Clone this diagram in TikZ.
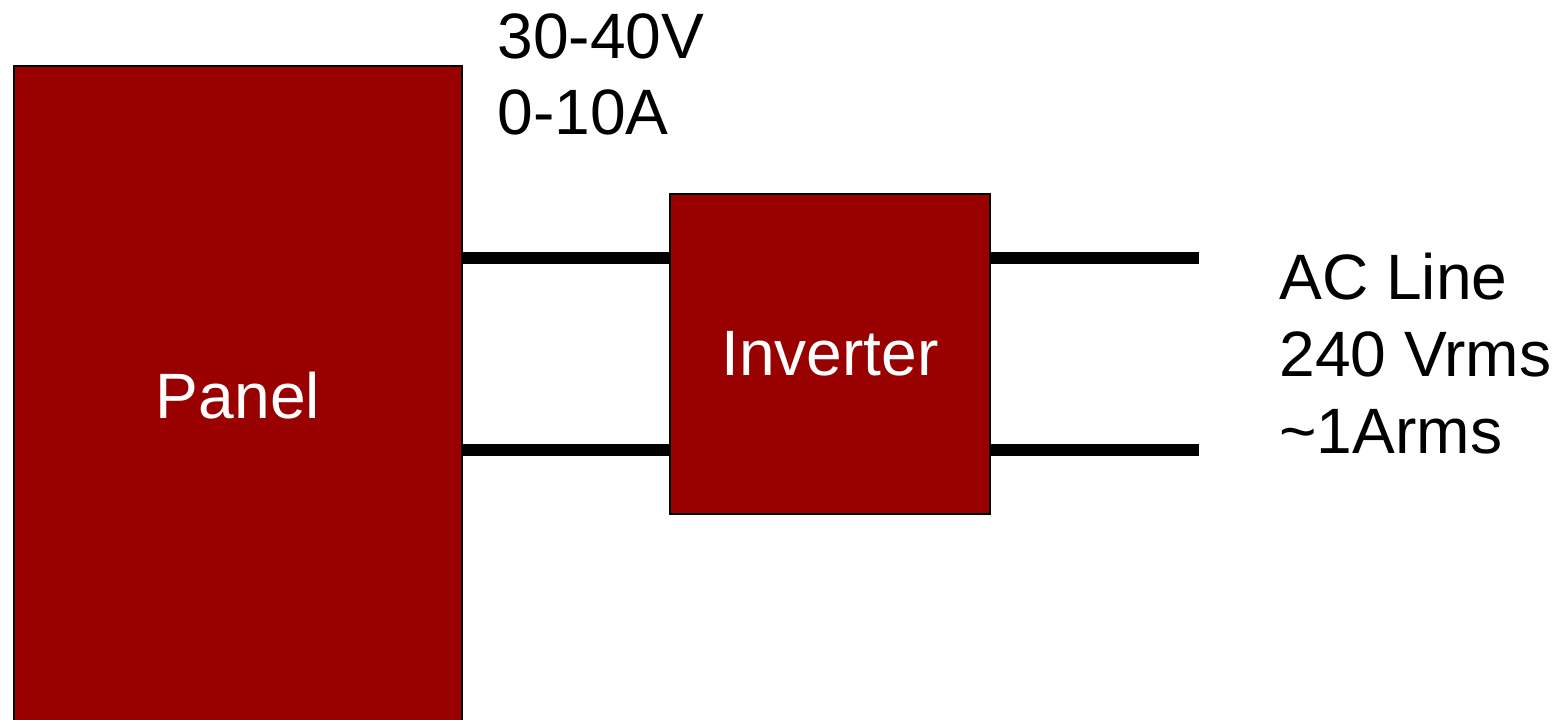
\documentclass[tikz,border=0pt]{standalone}
\usepackage{fontspec}
\setmainfont{Liberation Sans}
\usepackage{tikz}
\usetikzlibrary{
  positioning,
  calc
}
\definecolor{boxred}{RGB}{153,0,0}

\begin{document}
\begin{tikzpicture}[
  x=0.02cm, y=-0.02cm,
  block/.style={draw=black,line width=1.1pt,fill=boxred,text=white,
                inner sep=0pt,font=\fontsize{36.5}{44}\selectfont},
  wire/.style ={line width=6.8pt,black},
  lbl/.style  ={inner sep=0pt,align=left,anchor=north west,
                font=\fontsize{36.5}{43.7}\selectfont},
]
\useasboundingbox (0,0) rectangle (1562,720);

\node[block,minimum width=8.96cm,minimum height=13.2cm] (panel) at (238,396) {Panel};
\node[block,minimum width=6.4cm,minimum height=6.4cm]   (inv)   at (830,354) {Inverter};

% wire ends
\coordinate (dcA) at ([yshift=1.92cm]inv.west);
\coordinate (dcB) at ([yshift=-1.92cm]inv.west);
\coordinate (acA) at ($([yshift=1.92cm]inv.east)+(208,0)$);
\coordinate (acB) at ($([yshift=-1.92cm]inv.east)+(208,0)$);

% DC side
\draw[wire] (panel.east |- dcA) -- (dcA);
\draw[wire] (panel.east |- dcB) -- (dcB);
% AC side
\draw[wire] (inv.east |- acA) -- (acA);
\draw[wire] (inv.east |- acB) -- (acB);

\node[lbl] (dclbl) at (497,13)   {30-40V\\0-10A};
\node[lbl] (aclbl) at (1279,253) {AC Line\\240 Vrms\\\textasciitilde1Arms};
\end{tikzpicture}
\end{document}
